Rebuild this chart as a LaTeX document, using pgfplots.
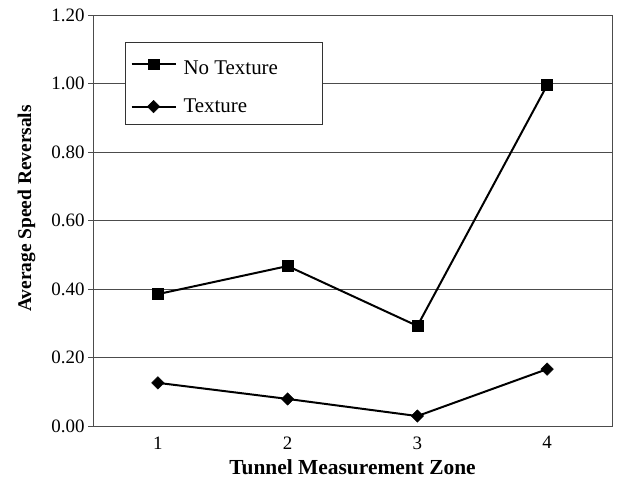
\documentclass[border=0pt]{standalone}
\usepackage{pgfplots}
\pgfplotsset{compat=1.18}
\usepackage{fontspec}
\setmainfont{Liberation Serif}
\begin{document}
\begin{tikzpicture}[x=1bp,y=1bp]
\path[use as bounding box] (0,0) rectangle (618,483);
\begin{axis}[
  at={(93bp,57bp)}, anchor=south west,
  scale only axis,
  width=519bp, height=411bp,
  xmin=0.5, xmax=4.5,
  ymin=0, ymax=1.2,
  xtick={1,2,3,4},
  ytick={0,0.2,0.4,0.6,0.8,1.0,1.2},
  yticklabel style={/pgf/number format/.cd,fixed,fixed zerofill,precision=2},
  /pgf/number format/assume math mode=true,
  ymajorgrids=true,
  grid style={draw=black!70, line width=0.8pt},
  axis line style={draw=black!70, line width=0.9pt},
  tick style={draw=black!70, line width=0.8pt},
  xtick style={draw=none},
  ytick pos=left,
  tick align=outside,
  major tick length=5bp,
  tick label style={font=\fontsize{19}{22}\selectfont},
  xticklabel style={yshift=-2bp},
  xlabel={\textbf{Tunnel Measurement Zone}},
  ylabel={\textbf{Average Speed Reversals}},
  xlabel style={font=\fontsize{21.5}{24}\selectfont, yshift=-4bp},
  ylabel style={font=\fontsize{19.5}{23}\selectfont, yshift=9bp, xshift=12bp},
  legend style={at={(0.062,0.934)}, anchor=north west, draw=black!80,
    line width=0.8pt, font=\fontsize{21}{24}\selectfont,
    inner xsep=5bp, inner ysep=8bp, row sep=19bp},
  legend cell align=left,
  legend image code/.code={
    \draw[#1, mark=none] (0bp,0bp) -- (44bp,0bp);
    \draw[#1, only marks] plot coordinates {(22bp,0bp)};
    \path (49bp,0bp);
  },
]
\addplot[black, line width=2pt, mark=square*, mark size=5.5pt, mark options={solid, line width=0.5pt}]
  coordinates {(1,0.385) (2,0.467) (3,0.292) (4,0.995)};
\addplot[black, line width=2pt, mark=square*, mark size=4.4pt, mark options={solid, line width=0.5pt, rotate=45}]
  coordinates {(1,0.126) (2,0.079) (3,0.029) (4,0.166)};
\legend{\rule{0pt}{22bp}\makebox[132bp][l]{No Texture},Texture}
\end{axis}
\end{tikzpicture}
\end{document}
